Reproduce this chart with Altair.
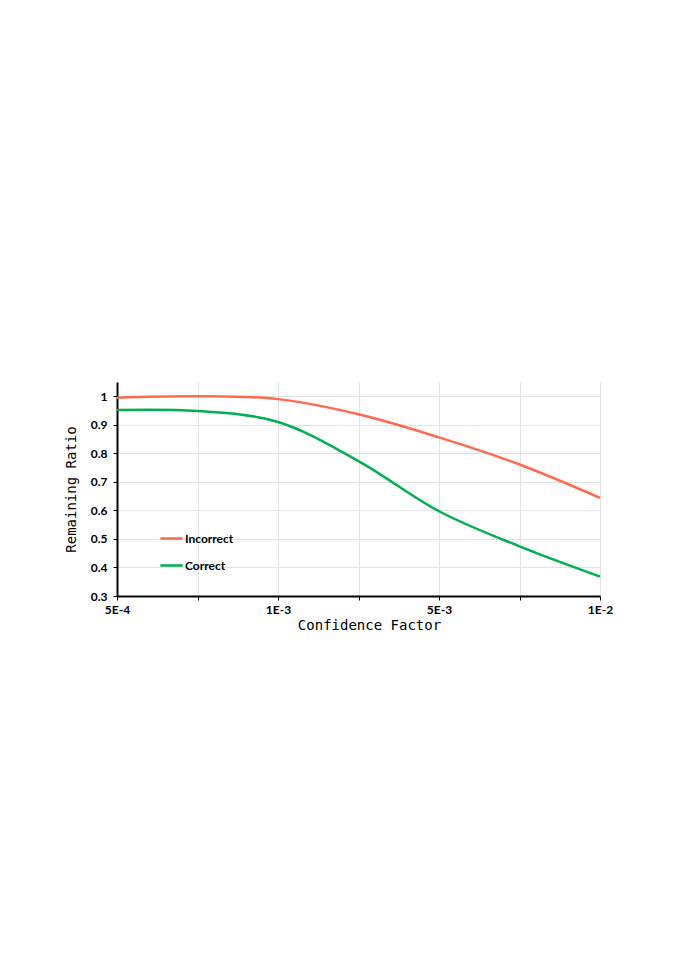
import altair as alt
import pandas as pd

x_pos = [0, 1, 2, 3, 4, 5, 6]
x_labels = ["5E-4", "", "1E-3", "", "5E-3", "", "1E-2"]
incorrect = [0.995, 1.0, 0.99, 0.937, 0.856, 0.761, 0.644]
correct = [0.952, 0.948, 0.91, 0.773, 0.597, 0.474, 0.368]
series = ["Incorrect", "Correct"]
colors = ["#FF6A4D", "#00B050"]

rows = []
for name, vals in zip(series, [incorrect, correct]):
    for x, v in zip(x_pos, vals):
        rows.append({"x": x, "value": v, "series": name})
df = pd.DataFrame(rows)

label_expr = "[" + ",".join(f"'{l}'" for l in x_labels) + "][datum.value]"

chart = alt.Chart(df).mark_line(
    interpolate="catmull-rom", strokeWidth=2.5
).encode(
    x=alt.X("x:Q", scale=alt.Scale(domain=[0, 6], nice=False, zero=False),
            axis=alt.Axis(values=x_pos, labelExpr=label_expr,
                          title="Confidence Factor", titleFont="DejaVu Sans Mono",
                          titleFontWeight="normal", titleFontSize=14, titlePadding=0,
                          titleX=252, titleY=22, titleColor="black",
                          labelFont="Lato", labelFontWeight="bold", labelFontSize=12,
                          labelColor="black", labelPadding=4,
                          domainColor="black", domainWidth=2,
                          tickColor="black", tickSize=4, tickWidth=1,
                          gridColor="#E3E3E3", gridWidth=1, labelFlush=False)),
    y=alt.Y("value:Q", scale=alt.Scale(domain=[0.3, 1.05], nice=False, zero=False),
            axis=alt.Axis(values=[0.3, 0.4, 0.5, 0.6, 0.7, 0.8, 0.9, 1.0],
                          format="~g",
                          title="Remaining Ratio", titleFont="DejaVu Sans Mono",
                          titleFontWeight="normal", titleFontSize=14, titlePadding=12,
                          titleColor="black",
                          labelFont="Lato", labelFontWeight="bold", labelFontSize=12,
                          labelColor="black", labelPadding=6,
                          domainColor="black", domainWidth=2,
                          tickColor="black", tickSize=4, tickWidth=1,
                          gridColor="#E3E3E3", gridWidth=1)),
    color=alt.Color("series:N", scale=alt.Scale(domain=series, range=colors),
                    legend=alt.Legend(orient="none", legendX=42, legendY=144,
                                      title=None, symbolType="stroke", symbolSize=500,
                                      symbolStrokeWidth=2.5, labelFont="Lato",
                                      labelFontWeight="bold", labelFontSize=12,
                                      labelColor="black", rowPadding=8,
                                      labelOffset=1)),
).properties(
    width=483, height=214,
    autosize=alt.AutoSizeParams(type="none"),
    padding={"left": 109, "top": 374, "right": 60, "bottom": 300},
).configure_view(stroke=None)

chart.save("out.html", embed_options={"renderer": "svg", "actions": False})
